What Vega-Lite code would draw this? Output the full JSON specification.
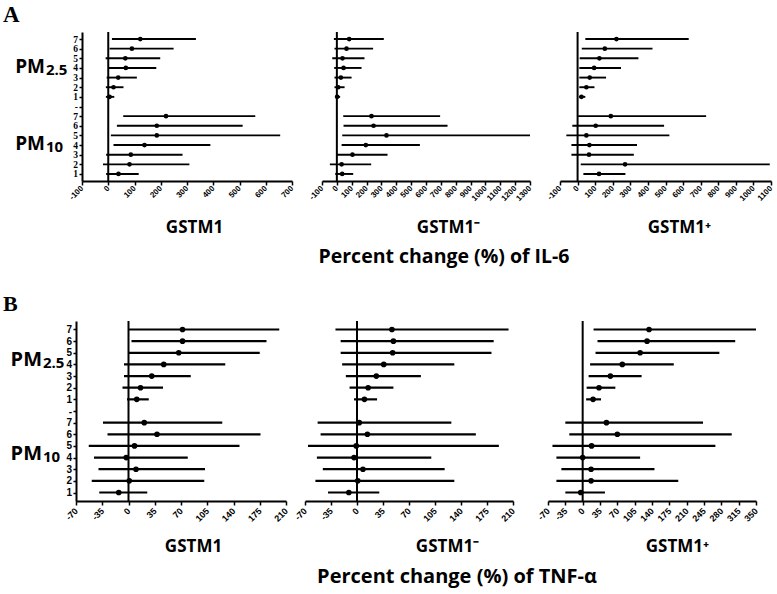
{
  "$schema": "https://vega.github.io/schema/vega-lite/v6.json",
  "padding": {"left": 3, "top": 4, "right": 4, "bottom": 4},
  "background": "white",
  "config": {
    "view": {"stroke": null},
    "axis": {"grid": false, "domainColor": "black", "tickColor": "black", "labelColor": "black", "titleColor": "black", "domainWidth": 1.8, "tickWidth": 1.5, "labelFontWeight": "bold", "titleFont": "Open Sans", "titleFontWeight": "bold", "titleFontSize": 17},
    "axisX": {"labelAngle": -45, "labelAlign": "right", "labelBaseline": "middle", "labelFlush": false, "labelOverlap": false, "labelBound": false, "tickSize": 4, "tickCount": 100, "labelFont": "Liberation Sans", "titleBaseline": "alphabetic", "labelExpr": "datum.value + ''"},
    "axisY": {"tickSize": 3, "labelPadding": 1.5, "labelFlush": false, "labelOverlap": false}
  },
  "datasets": {
    "ci": [
      {"panel": "A1", "row": "a7", "est": 122, "lo": 14, "hi": 334},
      {"panel": "A1", "row": "a6", "est": 90, "lo": 5, "hi": 249},
      {"panel": "A1", "row": "a5", "est": 65, "lo": -10, "hi": 198},
      {"panel": "A1", "row": "a4", "est": 67, "lo": 1, "hi": 183},
      {"panel": "A1", "row": "a3", "est": 38, "lo": -6, "hi": 109},
      {"panel": "A1", "row": "a2", "est": 20, "lo": -9, "hi": 58},
      {"panel": "A1", "row": "a1", "est": 5, "lo": -9, "hi": 23},
      {"panel": "A1", "row": "b7", "est": 220, "lo": 57, "hi": 560},
      {"panel": "A1", "row": "b6", "est": 185, "lo": 33, "hi": 512},
      {"panel": "A1", "row": "b5", "est": 185, "lo": 10, "hi": 655},
      {"panel": "A1", "row": "b4", "est": 138, "lo": 20, "hi": 389},
      {"panel": "A1", "row": "b3", "est": 86, "lo": -8, "hi": 283},
      {"panel": "A1", "row": "b2", "est": 81, "lo": -20, "hi": 309},
      {"panel": "A1", "row": "b1", "est": 39, "lo": -8, "hi": 116},
      {"panel": "A2", "row": "a7", "est": 83, "lo": -20, "hi": 316},
      {"panel": "A2", "row": "a6", "est": 65, "lo": -16, "hi": 244},
      {"panel": "A2", "row": "a5", "est": 38, "lo": -31, "hi": 186},
      {"panel": "A2", "row": "a4", "est": 45, "lo": -18, "hi": 166},
      {"panel": "A2", "row": "a3", "est": 27, "lo": -16, "hi": 99},
      {"panel": "A2", "row": "a2", "est": 9, "lo": -16, "hi": 52},
      {"panel": "A2", "row": "a1", "est": 2, "lo": -11, "hi": 22},
      {"panel": "A2", "row": "b7", "est": 233, "lo": 43, "hi": 695},
      {"panel": "A2", "row": "b6", "est": 247, "lo": 45, "hi": 745},
      {"panel": "A2", "row": "b5", "est": 334, "lo": 36, "hi": 1300},
      {"panel": "A2", "row": "b4", "est": 195, "lo": 32, "hi": 559},
      {"panel": "A2", "row": "b3", "est": 105, "lo": 0, "hi": 341},
      {"panel": "A2", "row": "b2", "est": 32, "lo": -47, "hi": 231},
      {"panel": "A2", "row": "b1", "est": 36, "lo": -11, "hi": 110},
      {"panel": "A3", "row": "a7", "est": 221, "lo": 44, "hi": 632},
      {"panel": "A3", "row": "a6", "est": 155, "lo": 24, "hi": 426},
      {"panel": "A3", "row": "a5", "est": 124, "lo": 12, "hi": 346},
      {"panel": "A3", "row": "a4", "est": 94, "lo": 10, "hi": 247},
      {"panel": "A3", "row": "a3", "est": 69, "lo": 10, "hi": 162},
      {"panel": "A3", "row": "a2", "est": 50, "lo": 10, "hi": 96},
      {"panel": "A3", "row": "a1", "est": 22, "lo": 8, "hi": 44},
      {"panel": "A3", "row": "b7", "est": 189, "lo": 3, "hi": 731},
      {"panel": "A3", "row": "b6", "est": 103, "lo": -30, "hi": 492},
      {"panel": "A3", "row": "b5", "est": 50, "lo": -64, "hi": 522},
      {"panel": "A3", "row": "b4", "est": 67, "lo": -35, "hi": 338},
      {"panel": "A3", "row": "b3", "est": 65, "lo": -35, "hi": 320},
      {"panel": "A3", "row": "b2", "est": 270, "lo": 18, "hi": 1093},
      {"panel": "A3", "row": "b1", "est": 122, "lo": 33, "hi": 272},
      {"panel": "B1", "row": "a7", "est": 72, "lo": 0, "hi": 201},
      {"panel": "B1", "row": "a6", "est": 72, "lo": 4, "hi": 184},
      {"panel": "B1", "row": "a5", "est": 67, "lo": 0, "hi": 175},
      {"panel": "B1", "row": "a4", "est": 47, "lo": -6, "hi": 129},
      {"panel": "B1", "row": "a3", "est": 31, "lo": -6, "hi": 83},
      {"panel": "B1", "row": "a2", "est": 16, "lo": -8, "hi": 46},
      {"panel": "B1", "row": "a1", "est": 11, "lo": -2, "hi": 27},
      {"panel": "B1", "row": "b7", "est": 21, "lo": -34, "hi": 125},
      {"panel": "B1", "row": "b6", "est": 38, "lo": -28, "hi": 176},
      {"panel": "B1", "row": "b5", "est": 8, "lo": -53, "hi": 148},
      {"panel": "B1", "row": "b4", "est": -3, "lo": -46, "hi": 79},
      {"panel": "B1", "row": "b3", "est": 10, "lo": -40, "hi": 102},
      {"panel": "B1", "row": "b2", "est": 1, "lo": -49, "hi": 101},
      {"panel": "B1", "row": "b1", "est": -13, "lo": -39, "hi": 25},
      {"panel": "B2", "row": "a7", "est": 47, "lo": -29, "hi": 204},
      {"panel": "B2", "row": "a6", "est": 49, "lo": -22, "hi": 184},
      {"panel": "B2", "row": "a5", "est": 48, "lo": -22, "hi": 181},
      {"panel": "B2", "row": "a4", "est": 36, "lo": -20, "hi": 131},
      {"panel": "B2", "row": "a3", "est": 26, "lo": -15, "hi": 86},
      {"panel": "B2", "row": "a2", "est": 15, "lo": -10, "hi": 49},
      {"panel": "B2", "row": "a1", "est": 10, "lo": -4, "hi": 27},
      {"panel": "B2", "row": "b7", "est": 3, "lo": -53, "hi": 127},
      {"panel": "B2", "row": "b6", "est": 14, "lo": -49, "hi": 160},
      {"panel": "B2", "row": "b5", "est": -1, "lo": -66, "hi": 191},
      {"panel": "B2", "row": "b4", "est": -4, "lo": -54, "hi": 100},
      {"panel": "B2", "row": "b3", "est": 8, "lo": -46, "hi": 118},
      {"panel": "B2", "row": "b2", "est": 1, "lo": -56, "hi": 131},
      {"panel": "B2", "row": "b1", "est": -11, "lo": -39, "hi": 30},
      {"panel": "B3", "row": "a7", "est": 134, "lo": 22, "hi": 350},
      {"panel": "B3", "row": "a6", "est": 130, "lo": 30, "hi": 308},
      {"panel": "B3", "row": "a5", "est": 116, "lo": 26, "hi": 276},
      {"panel": "B3", "row": "a4", "est": 80, "lo": 15, "hi": 184},
      {"panel": "B3", "row": "a3", "est": 56, "lo": 12, "hi": 119},
      {"panel": "B3", "row": "a2", "est": 33, "lo": 8, "hi": 66},
      {"panel": "B3", "row": "a1", "est": 21, "lo": 7, "hi": 37},
      {"panel": "B3", "row": "b7", "est": 48, "lo": -35, "hi": 243},
      {"panel": "B3", "row": "b6", "est": 70, "lo": -27, "hi": 301},
      {"panel": "B3", "row": "b5", "est": 18, "lo": -61, "hi": 268},
      {"panel": "B3", "row": "b4", "est": 0, "lo": -53, "hi": 116},
      {"panel": "B3", "row": "b3", "est": 17, "lo": -43, "hi": 145},
      {"panel": "B3", "row": "b2", "est": 17, "lo": -53, "hi": 193},
      {"panel": "B3", "row": "b1", "est": -4, "lo": -35, "hi": 45}
    ]
  },
  "vconcat": [
    {
      "hconcat": [
        {
          "width": 50, "height": 149,
          "title": {"text": "A", "anchor": "start", "frame": "group", "dx": -17, "offset": -13, "baseline": "alphabetic", "font": "Liberation Serif", "fontSize": 23, "fontWeight": "bold", "color": "black"},
          "data": {"values": [{"row": "a4", "main": "PM", "sub": "2.5"}, {"row": "b4", "main": "PM", "sub": "10"}]},
          "layer": [
            {"mark": {"type": "text", "align": "right", "baseline": "alphabetic", "dy": 5, "font": "Open Sans", "fontSize": 19, "fontWeight": "bold", "color": "black"},
             "encoding": {"y": {"field": "row", "type": "nominal", "scale": {"type": "point", "domain": ["a7","a6","a5","a4","a3","a2","a1","x-","b7","b6","b5","b4","b3","b2","b1"], "padding": 0.73}, "axis": null}, "text": {"field": "main"}}},
            {"mark": {"type": "text", "align": "left", "baseline": "alphabetic", "dy": 7, "dx": 1, "font": "Open Sans", "fontSize": 15, "fontWeight": "bold", "color": "black"},
             "encoding": {"y": {"field": "row", "type": "nominal", "scale": {"type": "point", "domain": ["a7","a6","a5","a4","a3","a2","a1","x-","b7","b6","b5","b4","b3","b2","b1"], "padding": 0.73}, "axis": null}, "text": {"field": "sub"}}}
          ]
        },
        {
          "hconcat": [
            {
              "width": 210, "height": 149,
              "layer": [
                {"data": {"values": [{"ref": 0}]}, "mark": {"type": "rule", "color": "black", "strokeWidth": 2},
                 "encoding": {"x": {"field": "ref", "type": "quantitative", "title": "GSTM1", "scale": {"domain": [-100, 700], "nice": false, "zero": false}, "axis": {"values": [-100,0,100,200,300,400,500,600,700], "tickCount": 100, "labelOverlap": false, "titleX": 112, "titleY": 51, "labelFontSize": 8, "labelPadding": 2}}}},
                {"data": {"name": "ci"}, "transform": [{"filter": "datum.panel == 'A1'"}], "mark": {"type": "rule", "color": "black", "strokeWidth": 1.9},
                 "encoding": {"x": {"field": "lo", "type": "quantitative", "title": "GSTM1"}, "x2": {"field": "hi"},
                   "y": {"field": "row", "type": "nominal", "scale": {"type": "point", "domain": ["a7","a6","a5","a4","a3","a2","a1","x-","b7","b6","b5","b4","b3","b2","b1"], "padding": 0.73}, "axis": {"title": null, "labelExpr": "substring(datum.value, 1)", "labelFont": "Liberation Serif", "labelFontSize": 9.5, "domainWidth": 2}}}},
                {"data": {"name": "ci"}, "transform": [{"filter": "datum.panel == 'A1'"}], "mark": {"type": "point", "filled": true, "color": "black", "opacity": 1, "size": 22},
                 "encoding": {"x": {"field": "est", "type": "quantitative", "title": "GSTM1"},
                   "y": {"field": "row", "type": "nominal", "scale": {"type": "point", "domain": ["a7","a6","a5","a4","a3","a2","a1","x-","b7","b6","b5","b4","b3","b2","b1"], "padding": 0.73}, "axis": {"title": null, "labelExpr": "substring(datum.value, 1)", "labelFont": "Liberation Serif", "labelFontSize": 9.5, "domainWidth": 2}}}}
              ]
            },
            {
              "width": 208, "height": 149,
              "title": {"text": "Percent change (%) of IL-6", "orient": "bottom", "anchor": "middle", "frame": "group", "dx": 18, "offset": 28, "baseline": "alphabetic", "font": "Open Sans", "fontSize": 19.5, "fontWeight": "bold", "color": "black"},
              "layer": [
                {"data": {"values": [{"ref": 0}]}, "mark": {"type": "rule", "color": "black", "strokeWidth": 2},
                 "encoding": {"x": {"field": "ref", "type": "quantitative", "title": "GSTM1⁻", "scale": {"domain": [-100, 1300], "nice": false, "zero": false}, "axis": {"values": [-100,0,100,200,300,400,500,600,700,800,900,1000,1100,1200,1300], "tickCount": 100, "labelOverlap": false, "titleX": 126, "titleY": 51, "labelFontSize": 8, "labelPadding": 2}}}},
                {"data": {"name": "ci"}, "transform": [{"filter": "datum.panel == 'A2'"}], "mark": {"type": "rule", "color": "black", "strokeWidth": 1.9},
                 "encoding": {"x": {"field": "lo", "type": "quantitative", "title": "GSTM1⁻"}, "x2": {"field": "hi"},
                   "y": {"field": "row", "type": "nominal", "scale": {"type": "point", "domain": ["a7","a6","a5","a4","a3","a2","a1","x-","b7","b6","b5","b4","b3","b2","b1"], "padding": 0.73}, "axis": null}}},
                {"data": {"name": "ci"}, "transform": [{"filter": "datum.panel == 'A2'"}], "mark": {"type": "point", "filled": true, "color": "black", "opacity": 1, "size": 22},
                 "encoding": {"x": {"field": "est", "type": "quantitative", "title": "GSTM1⁻"},
                   "y": {"field": "row", "type": "nominal", "scale": {"type": "point", "domain": ["a7","a6","a5","a4","a3","a2","a1","x-","b7","b6","b5","b4","b3","b2","b1"], "padding": 0.73}, "axis": null}}}
              ]
            },
            {
              "width": 211, "height": 149,
              "layer": [
                {"data": {"values": [{"ref": 0}]}, "mark": {"type": "rule", "color": "black", "strokeWidth": 2},
                 "encoding": {"x": {"field": "ref", "type": "quantitative", "title": "GSTM1⁺", "scale": {"domain": [-100, 1100], "nice": false, "zero": false}, "axis": {"values": [-100,0,100,200,300,400,500,600,700,800,900,1000,1100], "tickCount": 100, "labelOverlap": false, "titleX": 119, "titleY": 51, "labelFontSize": 8, "labelPadding": 2}}}},
                {"data": {"name": "ci"}, "transform": [{"filter": "datum.panel == 'A3'"}], "mark": {"type": "rule", "color": "black", "strokeWidth": 1.9},
                 "encoding": {"x": {"field": "lo", "type": "quantitative", "title": "GSTM1⁺"}, "x2": {"field": "hi"},
                   "y": {"field": "row", "type": "nominal", "scale": {"type": "point", "domain": ["a7","a6","a5","a4","a3","a2","a1","x-","b7","b6","b5","b4","b3","b2","b1"], "padding": 0.73}, "axis": null}}},
                {"data": {"name": "ci"}, "transform": [{"filter": "datum.panel == 'A3'"}], "mark": {"type": "point", "filled": true, "color": "black", "opacity": 1, "size": 22},
                 "encoding": {"x": {"field": "est", "type": "quantitative", "title": "GSTM1⁺"},
                   "y": {"field": "row", "type": "nominal", "scale": {"type": "point", "domain": ["a7","a6","a5","a4","a3","a2","a1","x-","b7","b6","b5","b4","b3","b2","b1"], "padding": 0.73}, "axis": null}}}
              ]
            }
          ],
          "spacing": 30, "bounds": "flush", "align": "none"
        }
      ],
      "spacing": 12, "bounds": "flush", "align": "none"
    },
    {
      "hconcat": [
        {
          "width": 44, "height": 180,
          "title": {"text": "B", "anchor": "start", "frame": "group", "dx": -17, "offset": -12, "baseline": "alphabetic", "font": "Liberation Serif", "fontSize": 22, "fontWeight": "bold", "color": "black"},
          "data": {"values": [{"row": "a4", "main": "PM", "sub": "2.5"}, {"row": "b4", "main": "PM", "sub": "10"}]},
          "layer": [
            {"mark": {"type": "text", "align": "right", "baseline": "alphabetic", "dy": 2, "font": "Open Sans", "fontSize": 20, "fontWeight": "bold", "color": "black"},
             "encoding": {"y": {"field": "row", "type": "nominal", "scale": {"type": "point", "domain": ["a7","a6","a5","a4","a3","a2","a1","x-","b7","b6","b5","b4","b3","b2","b1"], "padding": 0.73}, "axis": null}, "text": {"field": "main"}}},
            {"mark": {"type": "text", "align": "left", "baseline": "alphabetic", "dy": 4, "dx": 1, "font": "Open Sans", "fontSize": 15, "fontWeight": "bold", "color": "black"},
             "encoding": {"y": {"field": "row", "type": "nominal", "scale": {"type": "point", "domain": ["a7","a6","a5","a4","a3","a2","a1","x-","b7","b6","b5","b4","b3","b2","b1"], "padding": 0.73}, "axis": null}, "text": {"field": "sub"}}}
          ]
        },
        {
          "hconcat": [
            {
              "width": 210, "height": 180,
              "layer": [
                {"data": {"values": [{"ref": 0}]}, "mark": {"type": "rule", "color": "black", "strokeWidth": 2},
                 "encoding": {"x": {"field": "ref", "type": "quantitative", "title": "GSTM1", "scale": {"domain": [-70, 210], "nice": false, "zero": false}, "axis": {"values": [-70,-35,0,35,70,105,140,175,210], "tickCount": 100, "labelOverlap": false, "titleX": 117, "titleY": 50, "labelFontSize": 9, "labelPadding": 4}}}},
                {"data": {"name": "ci"}, "transform": [{"filter": "datum.panel == 'B1'"}], "mark": {"type": "rule", "color": "black", "strokeWidth": 2.2},
                 "encoding": {"x": {"field": "lo", "type": "quantitative", "title": "GSTM1"}, "x2": {"field": "hi"},
                   "y": {"field": "row", "type": "nominal", "scale": {"type": "point", "domain": ["a7","a6","a5","a4","a3","a2","a1","x-","b7","b6","b5","b4","b3","b2","b1"], "padding": 0.73}, "axis": {"title": null, "labelExpr": "substring(datum.value, 1)", "labelFont": "Liberation Sans", "labelFontSize": 10, "domainWidth": 2}}}},
                {"data": {"name": "ci"}, "transform": [{"filter": "datum.panel == 'B1'"}], "mark": {"type": "point", "filled": true, "color": "black", "opacity": 1, "size": 32},
                 "encoding": {"x": {"field": "est", "type": "quantitative", "title": "GSTM1"},
                   "y": {"field": "row", "type": "nominal", "scale": {"type": "point", "domain": ["a7","a6","a5","a4","a3","a2","a1","x-","b7","b6","b5","b4","b3","b2","b1"], "padding": 0.73}, "axis": {"title": null, "labelExpr": "substring(datum.value, 1)", "labelFont": "Liberation Sans", "labelFontSize": 10, "domainWidth": 2}}}}
              ]
            },
            {
              "hconcat": [
                {
                  "width": 208, "height": 180,
                  "title": {"text": "Percent change (%) of TNF-α", "orient": "bottom", "anchor": "middle", "frame": "group", "dx": 48, "offset": 29, "baseline": "alphabetic", "font": "Open Sans", "fontSize": 20, "fontWeight": "bold", "color": "black"},
                  "layer": [
                    {"data": {"values": [{"ref": 0}]}, "mark": {"type": "rule", "color": "black", "strokeWidth": 2},
                     "encoding": {"x": {"field": "ref", "type": "quantitative", "title": "GSTM1⁻", "scale": {"domain": [-70, 210], "nice": false, "zero": false}, "axis": {"values": [-70,-35,0,35,70,105,140,175,210], "tickCount": 100, "labelOverlap": false, "titleX": 142, "titleY": 50, "labelFontSize": 9, "labelPadding": 4}}}},
                    {"data": {"name": "ci"}, "transform": [{"filter": "datum.panel == 'B2'"}], "mark": {"type": "rule", "color": "black", "strokeWidth": 2.2},
                     "encoding": {"x": {"field": "lo", "type": "quantitative", "title": "GSTM1⁻"}, "x2": {"field": "hi"},
                       "y": {"field": "row", "type": "nominal", "scale": {"type": "point", "domain": ["a7","a6","a5","a4","a3","a2","a1","x-","b7","b6","b5","b4","b3","b2","b1"], "padding": 0.73}, "axis": null}}},
                    {"data": {"name": "ci"}, "transform": [{"filter": "datum.panel == 'B2'"}], "mark": {"type": "point", "filled": true, "color": "black", "opacity": 1, "size": 32},
                     "encoding": {"x": {"field": "est", "type": "quantitative", "title": "GSTM1⁻"},
                       "y": {"field": "row", "type": "nominal", "scale": {"type": "point", "domain": ["a7","a6","a5","a4","a3","a2","a1","x-","b7","b6","b5","b4","b3","b2","b1"], "padding": 0.73}, "axis": null}}}
                  ]
                },
                {
                  "width": 208, "height": 180,
                  "layer": [
                    {"data": {"values": [{"ref": 0}]}, "mark": {"type": "rule", "color": "black", "strokeWidth": 2},
                     "encoding": {"x": {"field": "ref", "type": "quantitative", "title": "GSTM1⁺", "scale": {"domain": [-70, 350], "nice": false, "zero": false}, "axis": {"values": [-70,-35,0,35,70,105,140,175,210,245,280,315,350], "tickCount": 100, "labelOverlap": false, "titleX": 129, "titleY": 50, "labelFontSize": 9, "labelPadding": 4}}}},
                    {"data": {"name": "ci"}, "transform": [{"filter": "datum.panel == 'B3'"}], "mark": {"type": "rule", "color": "black", "strokeWidth": 2.2},
                     "encoding": {"x": {"field": "lo", "type": "quantitative", "title": "GSTM1⁺"}, "x2": {"field": "hi"},
                       "y": {"field": "row", "type": "nominal", "scale": {"type": "point", "domain": ["a7","a6","a5","a4","a3","a2","a1","x-","b7","b6","b5","b4","b3","b2","b1"], "padding": 0.73}, "axis": null}}},
                    {"data": {"name": "ci"}, "transform": [{"filter": "datum.panel == 'B3'"}], "mark": {"type": "point", "filled": true, "color": "black", "opacity": 1, "size": 32},
                     "encoding": {"x": {"field": "est", "type": "quantitative", "title": "GSTM1⁺"},
                       "y": {"field": "row", "type": "nominal", "scale": {"type": "point", "domain": ["a7","a6","a5","a4","a3","a2","a1","x-","b7","b6","b5","b4","b3","b2","b1"], "padding": 0.73}, "axis": null}}}
                  ]
                }
              ],
              "spacing": 35, "bounds": "flush", "align": "none"
            }
          ],
          "spacing": 19, "bounds": "flush", "align": "none"
        }
      ],
      "spacing": 12, "bounds": "flush", "align": "none"
    }
  ],
  "spacing": 289, "bounds": "flush", "align": "none"
}
